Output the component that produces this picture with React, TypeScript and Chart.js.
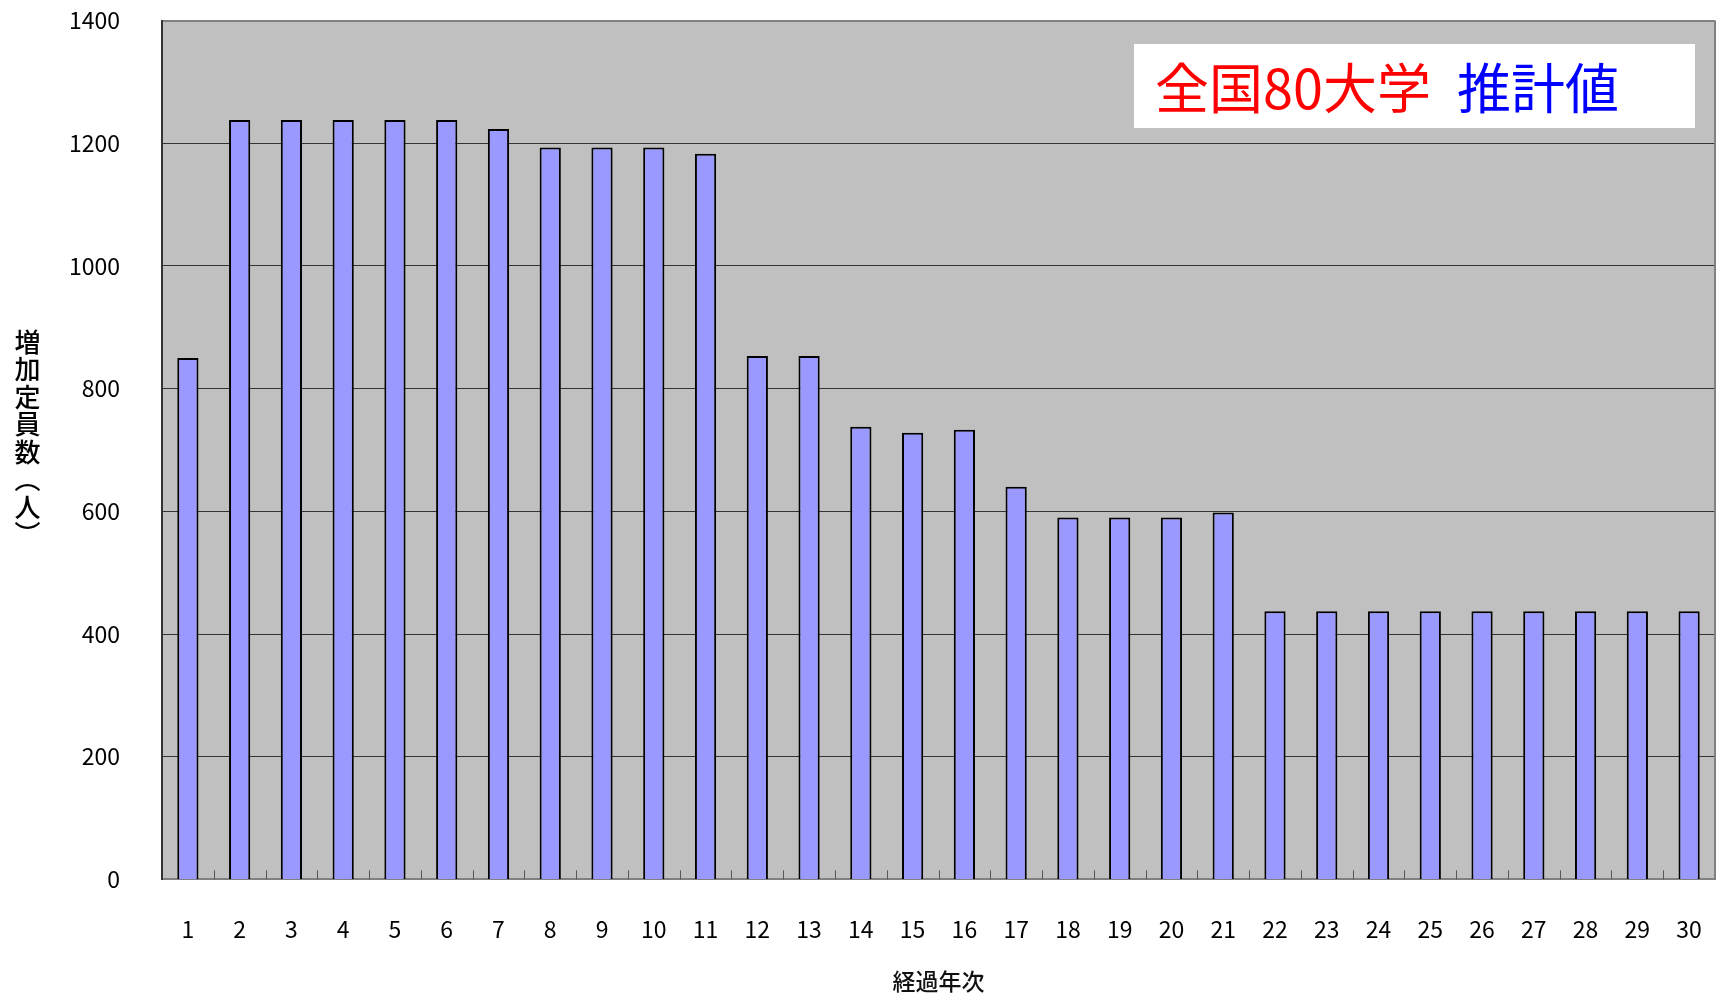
import React, { useEffect, useRef } from "react";
import { Chart, registerables } from "chart.js";

Chart.register(...registerables);

const yearLabels: string[] = [
  "1", "2", "3", "4", "5", "6", "7", "8", "9", "10",
  "11", "12", "13", "14", "15", "16", "17", "18", "19", "20",
  "21", "22", "23", "24", "25", "26", "27", "28", "29", "30",
];

const increaseValues: number[] = [
  850, 1238, 1238, 1238, 1238, 1238, 1223, 1193, 1193, 1193,
  1183, 853, 853, 738, 728, 733, 640, 590, 590, 590,
  598, 437, 437, 437, 437, 437, 437, 437, 437, 437,
];

const yTickValues: number[] = [0, 200, 400, 600, 800, 1000, 1200, 1400];

const xAxisTitle = "経過年次";
const yAxisTitleChars: string[] = ["増", "加", "定", "員", "数", "︵", "人", "︶"];
const boxTitleRed = "全国80大学";
const boxTitleBlue = "推計値";

const FONT = "'Noto Sans CJK JP', 'Noto Sans', sans-serif";

const decorPlugin = {
  id: "decor",
  beforeDraw(chart: any) {
    const { ctx, chartArea } = chart;
    ctx.save();
    ctx.fillStyle = "#C0C0C0";
    ctx.fillRect(chartArea.left, chartArea.top, chartArea.right - chartArea.left, chartArea.bottom - chartArea.top);
    ctx.restore();
  },
  afterDatasetsDraw(chart: any) {
    const { ctx, chartArea, scales } = chart;
    const x = scales.x;
    ctx.save();
    // right border
    ctx.strokeStyle = "#808080";
    ctx.lineWidth = 2;
    ctx.beginPath();
    ctx.moveTo(chartArea.right, chartArea.top);
    ctx.lineTo(chartArea.right, chartArea.bottom);
    ctx.stroke();
    // inner tick marks on category boundaries
    ctx.strokeStyle = "#555";
    ctx.lineWidth = 1;
    for (let i = 1; i < yearLabels.length; i++) {
      const bx = Math.round((x.getPixelForValue(i - 1) + x.getPixelForValue(i)) / 2) + 0.5;
      ctx.beginPath();
      ctx.moveTo(bx, chartArea.bottom);
      ctx.lineTo(bx, chartArea.bottom - 9);
      ctx.stroke();
    }
    // title box
    ctx.fillStyle = "#FFFFFF";
    ctx.fillRect(1134, 44, 561, 84);
    ctx.font = `54px ${FONT}`;
    ctx.textBaseline = "middle";
    ctx.textAlign = "left";
    ctx.fillStyle = "#FF0000";
    ctx.fillText(boxTitleRed, 1155, 88);
    ctx.fillStyle = "#0000FF";
    ctx.fillText(boxTitleBlue, 1457, 88);
    ctx.restore();
  },
  afterDraw(chart: any) {
    const { ctx } = chart;
    ctx.save();
    ctx.font = `500 26px ${FONT}`;
    ctx.fillStyle = "#000";
    ctx.textAlign = "center";
    ctx.textBaseline = "middle";
    yAxisTitleChars.forEach((ch, i) => {
      ctx.fillText(ch, 27.5, 342 + i * 27.5);
    });
    ctx.restore();
  },
};

export default function App() {
  const canvasRef = useRef<HTMLCanvasElement | null>(null);

  useEffect(() => {
    document.body.style.margin = "0";
    document.body.style.overflow = "hidden";
    const canvas = canvasRef.current;
    if (!canvas) return;
    const chart = new Chart(canvas, {
      type: "bar",
      data: {
        labels: yearLabels,
        datasets: [
          {
            label: "増加定員数",
            data: increaseValues,
            backgroundColor: "#9999FF",
            borderColor: "#000000",
            borderWidth: 2,
            barPercentage: 0.41,
            categoryPercentage: 1.0,
          },
        ],
      },
      options: {
        responsive: false,
        animation: false,
        devicePixelRatio: 1,
        layout: { padding: { top: 20.5, right: 1, left: 0, bottom: 0 } },
        plugins: {
          legend: { display: false },
          tooltip: { enabled: false },
          title: { display: false },
        },
        scales: {
          x: {
            grid: {
              display: true,
              drawOnChartArea: false,
              drawTicks: true,
              tickLength: 36,
              tickColor: "rgba(0,0,0,0)",
            },
            border: { display: true, color: "#808080", width: 2 },
            ticks: {
              font: { family: FONT, size: 23 },
              color: "#000",
              padding: 0,
              maxRotation: 0,
              autoSkip: false,
            },
            title: {
              display: true,
              text: xAxisTitle,
              font: { family: FONT, size: 23, weight: "500", lineHeight: 1 },
              color: "#111",
              padding: { top: 0, bottom: 2 },
            },
            afterFit: (scale: any) => {
              scale.height = 115.6;
            },
          },
          y: {
            min: 0,
            max: 1400,
            afterBuildTicks: (scale: any) => {
              scale.ticks = yTickValues.map((v) => ({ value: v }));
            },
            grid: {
              drawTicks: true,
              tickLength: 42,
              tickColor: "rgba(0,0,0,0)",
              color: (c: any) => (c.tick && c.tick.value === 1400 ? "#808080" : "#333333"),
              lineWidth: (c: any) => (c.tick && c.tick.value === 1400 ? 2 : 1),
            },
            border: { display: true, color: "#333333", width: 2 },
            ticks: {
              font: { family: FONT, size: 23 },
              color: "#000",
              padding: 0,
              callback: (v: any) => String(v),
            },
            afterFit: (scale: any) => {
              scale.width = 162;
            },
          },
        },
      },
      plugins: [decorPlugin],
    });
    return () => chart.destroy();
  }, []);

  return (
    <div style={{ position: "fixed", left: 0, top: 0, width: 1716, height: 995 }}>
      <canvas ref={canvasRef} width={1716} height={995} style={{ width: 1716, height: 995 }} />
    </div>
  );
}
